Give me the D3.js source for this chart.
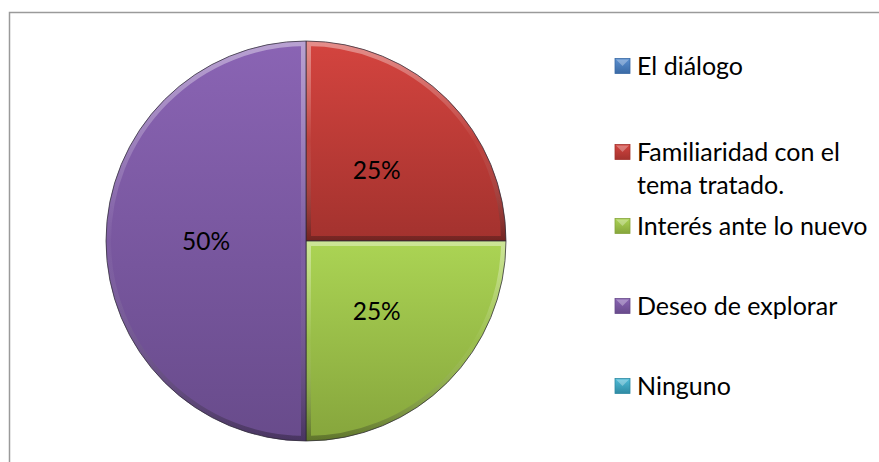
<!DOCTYPE html>
<html>
<head>
<meta charset="utf-8">
<script src="https://cdn.jsdelivr.net/npm/d3@7"></script>
<style>
  body { margin: 0; background: #fff; }
  svg text { font-family: Lato, "Open Sans", sans-serif; }
</style>
</head>
<body>
<div id="chart"></div>
<script>
var width = 879, height = 462;

// datos
var categories = ["El diálogo", "Familiaridad con el\ntema tratado.", "Interés ante lo nuevo", "Deseo de explorar", "Ninguno"];
var values = [0, 25, 25, 50, 0];
var topColors = ["#5b8fd0", "#d4443f", "#abd454", "#8a64b4", "#4fbcd8"];
var bottomColors = ["#3a6aa5", "#a3322e", "#86a53c", "#684b8b", "#2f8aa3"];

var radius = 200, cx = 306, cy = 241;

var svg = d3.select("#chart")
    .append("svg")
    .attr("width", width)
    .attr("height", height);

// marco del grafico
svg.append("rect")
    .attr("x", 9.5).attr("y", 12.5)
    .attr("width", 900).attr("height", 500)
    .attr("fill", "none")
    .attr("stroke", "#9a9a9a")
    .attr("stroke-width", 1.5);

var defs = svg.append("defs");

categories.forEach(function (c, i) {
    var g = defs.append("linearGradient")
        .attr("id", "grad" + i)
        .attr("x1", 0).attr("y1", 0).attr("x2", 0).attr("y2", 1);
    g.append("stop").attr("offset", "0%").attr("stop-color", topColors[i]);
    g.append("stop").attr("offset", "100%").attr("stop-color", bottomColors[i]);
});

// brillo / sombra del bisel
var bevel = defs.append("linearGradient")
    .attr("id", "bevel")
    .attr("x1", 0).attr("y1", 0).attr("x2", 0).attr("y2", 1);
bevel.append("stop").attr("offset", "0%").attr("stop-color", "#fff").attr("stop-opacity", 0.4);
bevel.append("stop").attr("offset", "50%").attr("stop-color", "#fff").attr("stop-opacity", 0.03);
bevel.append("stop").attr("offset", "100%").attr("stop-color", "#000").attr("stop-opacity", 0.3);

var total = d3.sum(values);
var data = categories.map(function (c, i) { return { name: c, value: values[i], idx: i }; });

var pie = d3.pie().sort(null).value(function (d) { return d.value; });
var arc = d3.arc().innerRadius(0).outerRadius(radius);

var arcs = pie(data).filter(function (d) { return d.value > 0; });

var pieG = svg.append("g")
    .attr("transform", "translate(" + cx + "," + cy + ")");

arcs.forEach(function (d) {
    defs.append("clipPath")
        .attr("id", "clip" + d.data.idx)
        .append("path")
        .attr("d", arc(d));
});

var slices = pieG.selectAll("g.slice")
    .data(arcs)
    .enter()
    .append("g")
    .attr("class", "slice");

slices.append("path")
    .attr("d", arc)
    .attr("fill", function (d) { return "url(#grad" + d.data.idx + ")"; });

slices.append("path")
    .attr("d", arc)
    .attr("clip-path", function (d) { return "url(#clip" + d.data.idx + ")"; })
    .attr("fill", "none")
    .attr("stroke", "url(#bevel)")
    .attr("stroke-width", 10);

slices.append("path")
    .attr("d", arc)
    .attr("fill", "none")
    .attr("stroke", "#2e2a35")
    .attr("stroke-opacity", 0.75)
    .attr("stroke-width", 1);

slices.append("text")
    .attr("transform", function (d) { return "translate(" + arc.centroid(d) + ")"; })
    .attr("text-anchor", "middle")
    .attr("dy", "0.35em")
    .attr("font-size", 24.5)
    .attr("fill", "#000")
    .text(function (d) { return d3.format(".0%")(d.value / total); });

// leyenda
var legendY = d3.scalePoint().domain(categories).range([66, 386]);

var legend = svg.selectAll("g.legend")
    .data(data)
    .enter()
    .append("g")
    .attr("class", "legend")
    .attr("transform", function (d) {
        var lines = d.name.split("\n").length;
        return "translate(615," + (legendY(d.name) + (lines > 1 ? 6 : 0)) + ")";
    });

legend.append("rect")
    .attr("x", 0).attr("y", -7.5)
    .attr("width", 15).attr("height", 15)
    .attr("fill", function (d) { return "url(#grad" + d.idx + ")"; })
    .attr("stroke", function (d) { return bottomColors[d.idx]; })
    .attr("stroke-width", 0.8);

legend.append("path")
    .attr("d", "M1,-6.5 L14,-6.5 L7.5,0 Z")
    .attr("fill", "#fff")
    .attr("fill-opacity", 0.3);

legend.append("text")
    .attr("x", 22)
    .attr("font-size", 25)
    .attr("fill", "#000")
    .selectAll("tspan")
    .data(function (d) { return d.name.split("\n"); })
    .enter()
    .append("tspan")
    .attr("x", 22)
    .attr("y", function (d, i) { return i * 33; })
    .attr("dy", "0.35em")
    .text(function (d) { return d; });
</script>
</body>
</html>
